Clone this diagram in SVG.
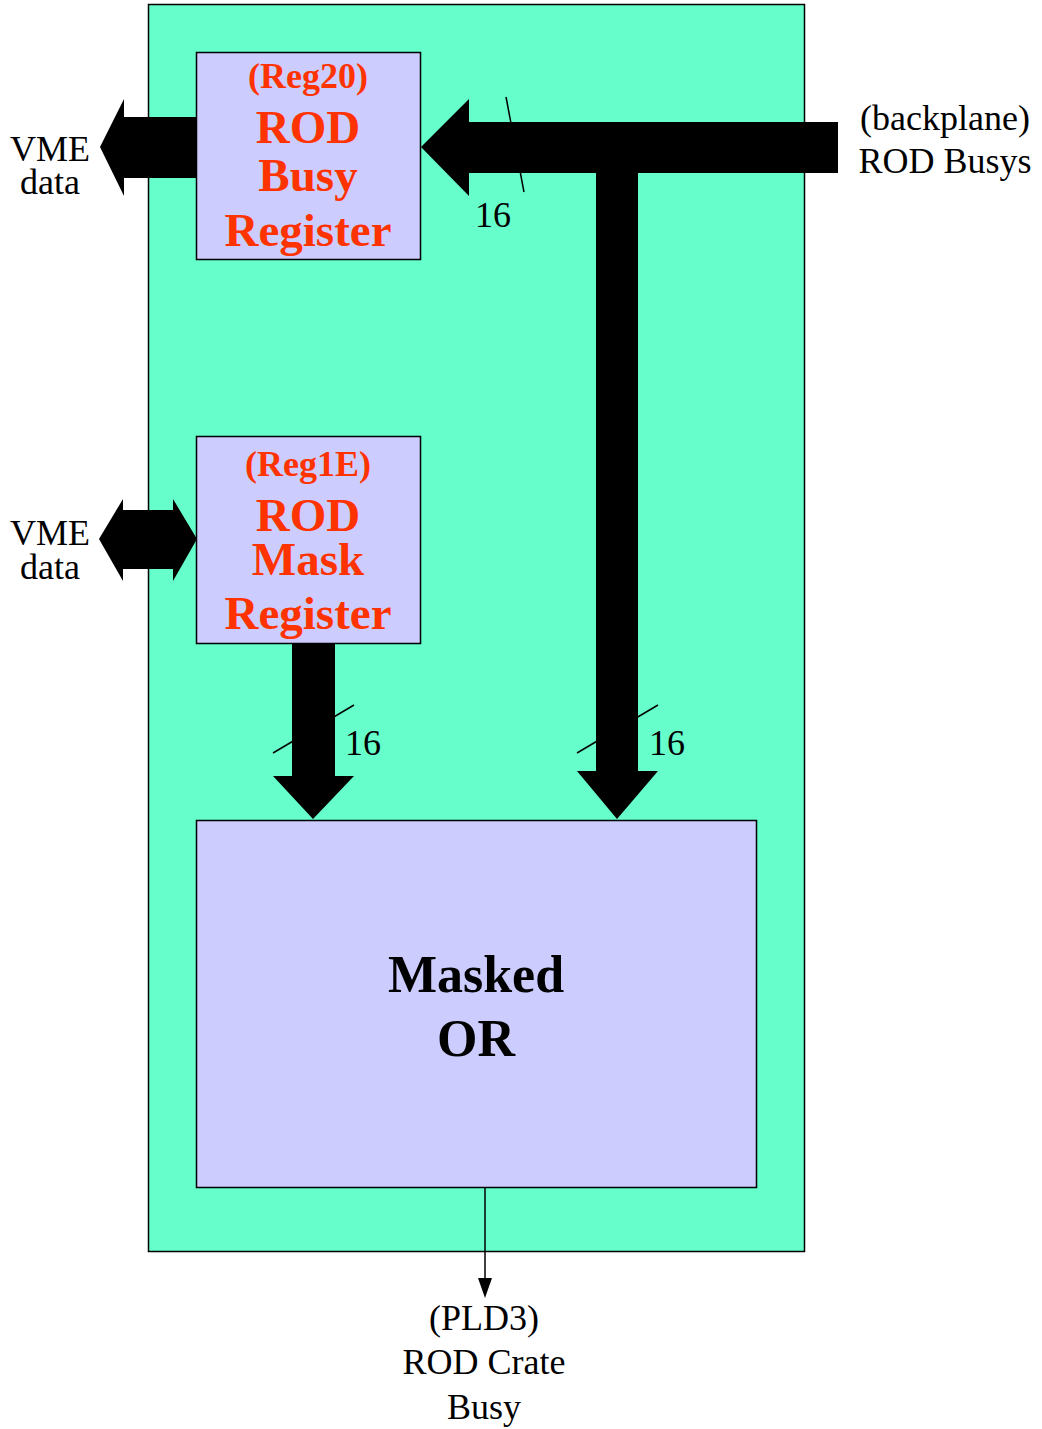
<svg xmlns="http://www.w3.org/2000/svg" width="1042" height="1429" viewBox="0 0 1042 1429">
<style>
.bg{fill:#66FFCC;stroke:#000;stroke-width:1.5}
.box{fill:#CCCCFF;stroke:#000;stroke-width:1.5}
.bus{fill:#000;stroke:none}
.tick{stroke:#000;stroke-width:1.5;fill:none}
.t{font-family:"Liberation Serif","Times New Roman",serif;font-size:36px;fill:#000;text-anchor:middle}
.r{font-family:"Liberation Serif","Times New Roman",serif;font-weight:bold;fill:#FF3300;text-anchor:middle}
.b{font-family:"Liberation Serif","Times New Roman",serif;font-weight:bold;font-size:52px;fill:#000;text-anchor:middle}
</style>
<rect id="board" class="bg" x="148.5" y="4.5" width="656" height="1247"/>
<g id="connectors">
<polygon class="bus" points="196,117 124,117 124,99 100,147 124,196 124,178 196,178"/>
<polygon class="bus" points="838,122 469,122 469,99 421,147 469,196 469,173 596,173 596,771 577,771 617,819 658,771 638,771 638,173 838,173"/>
<line class="tick" x1="506" y1="97" x2="524" y2="192"/>
<polygon class="bus" points="99,539 123,499 123,510 173,510 173,499 197,539 173,581 173,569 123,569 123,581"/>
<polygon class="bus" points="292,644 335,644 335,776 354,776 313,819 273,776 292,776"/>
<line class="tick" x1="273" y1="753" x2="354" y2="705"/>
<line class="tick" x1="577" y1="753" x2="658" y2="705"/>
<line x1="485" y1="1188" x2="485" y2="1278" stroke="#000" stroke-width="1.5"/>
<path d="M478,1278 L492,1278 L485,1298 Z" fill="#000"/>
<text class="t" x="493" y="227">16</text>
<text class="t" x="363" y="755">16</text>
<text class="t" x="667" y="755">16</text>
</g>
<g id="busy-register">
<rect class="box" x="196.5" y="52.5" width="224" height="207"/>
<text class="r" x="308" y="88" font-size="36">(Reg20)</text>
<text class="r" x="308" y="143" font-size="47">ROD</text>
<text class="r" x="308" y="191" font-size="47">Busy</text>
<text class="r" x="308" y="246" font-size="47">Register</text>
</g>
<g id="mask-register">
<rect class="box" x="196.5" y="436.5" width="224" height="207"/>
<text class="r" x="308" y="476" font-size="36">(Reg1E)</text>
<text class="r" x="308" y="531" font-size="47">ROD</text>
<text class="r" x="308" y="575" font-size="47">Mask</text>
<text class="r" x="308" y="629" font-size="47">Register</text>
</g>
<g id="masked-or">
<rect class="box" x="196.5" y="820.5" width="560" height="367"/>
<text class="b" x="476" y="992">Masked</text>
<text class="b" x="476" y="1056">OR</text>
</g>
<g id="vme-data-1">
<text class="t" x="50" y="161">VME</text>
<text class="t" x="50" y="194">data</text>
</g>
<g id="vme-data-2">
<text class="t" x="50" y="545">VME</text>
<text class="t" x="50" y="579">data</text>
</g>
<g id="backplane">
<text class="t" x="945" y="130">(backplane)</text>
<text class="t" x="945" y="173">ROD Busys</text>
</g>
<g id="pld3">
<text class="t" x="484" y="1330">(PLD3)</text>
<text class="t" x="484" y="1374">ROD Crate</text>
<text class="t" x="484" y="1419">Busy</text>
</g>
</svg>
